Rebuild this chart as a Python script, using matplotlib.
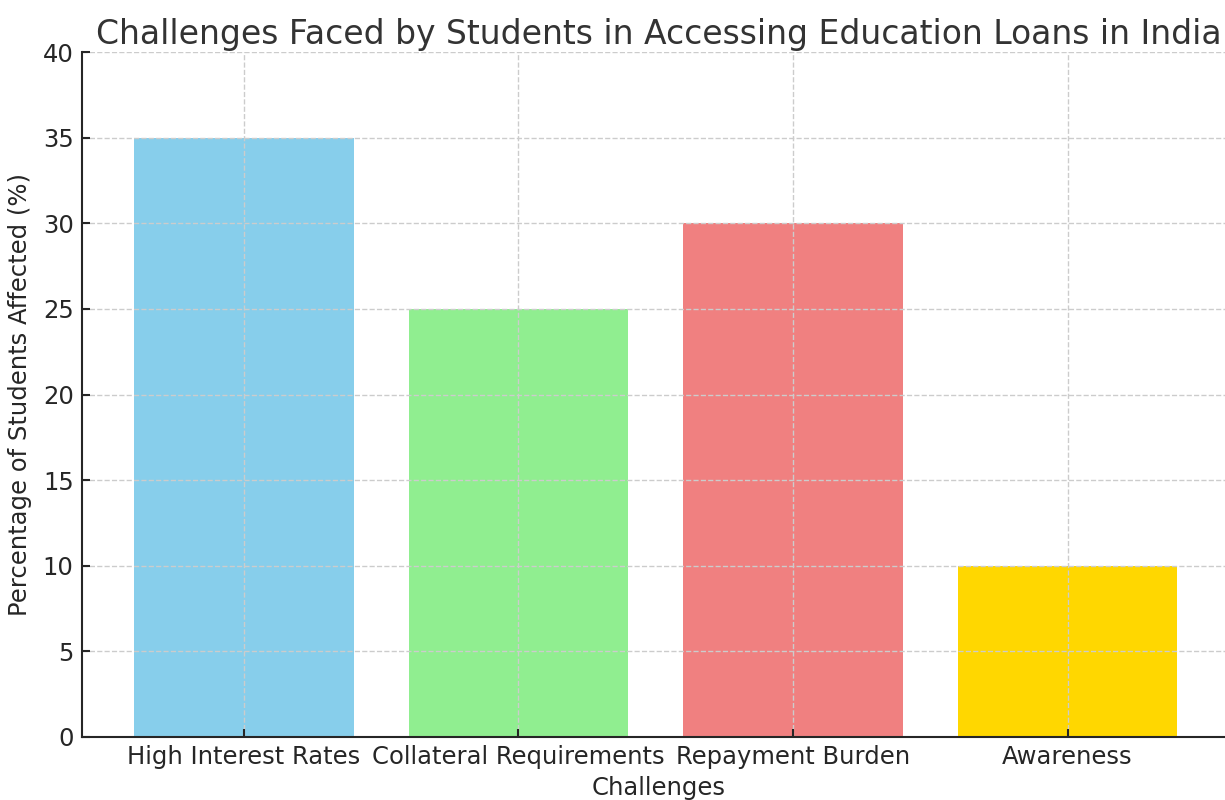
import matplotlib
matplotlib.use("Agg")
from matplotlib import pyplot as plt

# Datos del grafico
challenges = ["High Interest Rates", "Collateral Requirements", "Repayment Burden", "Awareness"]
percentages = [35, 25, 30, 10]
colors = ["skyblue", "lightgreen", "lightcoral", "gold"]

fig = plt.figure(figsize=(12.25, 8), dpi=100)
ax = fig.add_axes([82 / 1225, 1 - 737 / 800, (1235 - 82) / 1225, (737 - 52) / 800])

ax.bar(challenges, percentages, color=colors, width=0.8)
ax.set_ylim(0, 40)
ax.set_xlim(-0.59, 3.61)
ax.set_title("Challenges Faced by Students in Accessing Education Loans in India",
             fontsize=23.8, color="#333333", pad=6)
ax.set_xlabel("Challenges", fontsize=17.5, color="#262626", labelpad=5)
ax.set_ylabel("Percentage of Students Affected (%)", fontsize=17.5, color="#262626", labelpad=8)
ax.tick_params(labelsize=17.5, colors="#262626", direction="in", length=6, width=1.5, pad=6)
ax.grid(True, linestyle="--", color="#cccccc", linewidth=1)
for s in ["top", "right"]:
    ax.spines[s].set_visible(False)
for s in ["left", "bottom"]:
    ax.spines[s].set_linewidth(1.5)
    ax.spines[s].set_color("#262626")

fig.savefig("out.png", dpi=100)
